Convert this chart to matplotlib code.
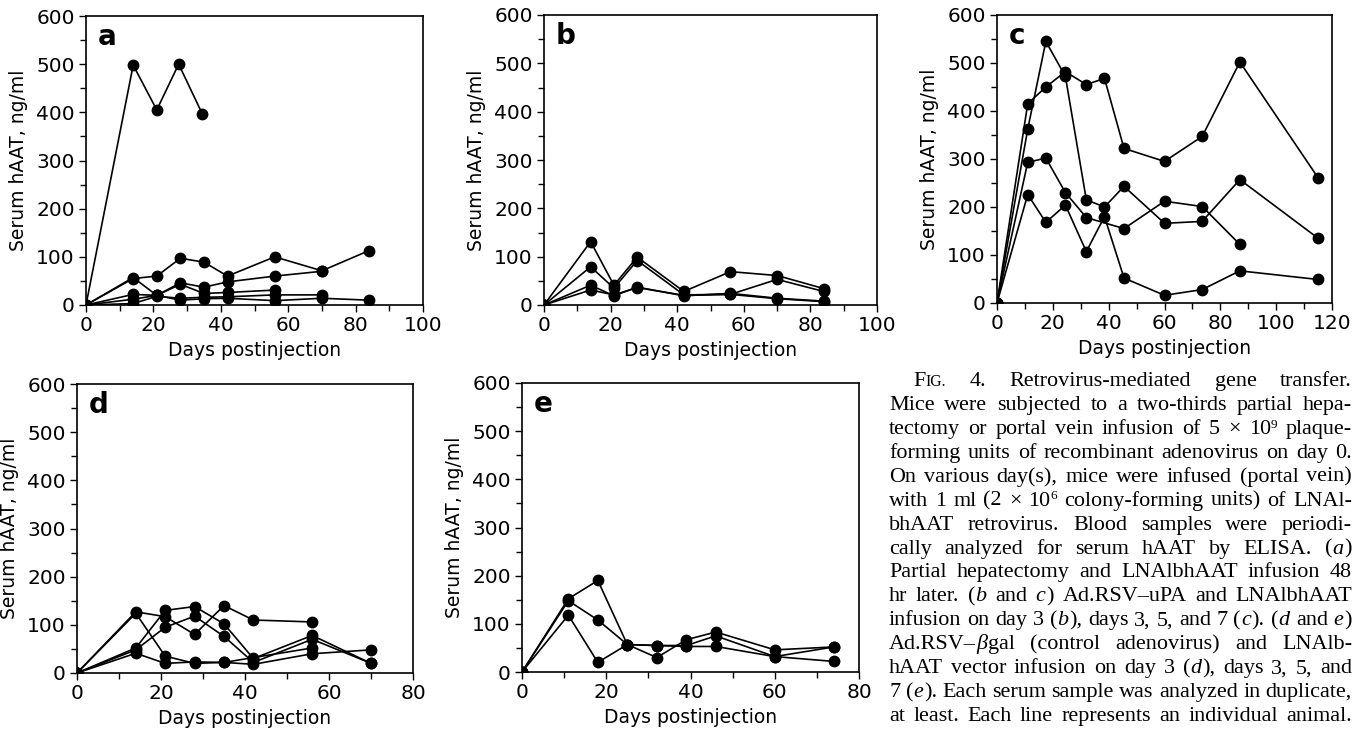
import re
import matplotlib
matplotlib.use('Agg')
import matplotlib.pyplot as plt
from matplotlib.ticker import MultipleLocator

# panel a: partial hepatectomy + LNAlbhAAT
a_series = [
    ([0, 14, 21, 27.5, 34.5], [0, 498, 405, 500, 397]),
    ([0, 14, 21, 28, 35, 42, 56, 70, 84], [0, 55, 60, 97, 89, 60, 100, 71, 113]),
    ([0, 14, 21, 28, 35, 42, 56, 70], [0, 57, 20, 46, 37, 48, 60, 70]),
    ([0, 14, 21, 28, 35, 42, 56, 70, 84], [0, 22, 20, 10, 13, 14, 9, 14, 10]),
    ([0, 14, 21, 28, 35, 42, 56], [0, 12, 20, 43, 24, 26, 31]),
    ([0, 14, 21, 28, 35, 42, 56, 70], [0, 3, 18, 14, 16, 17, 21, 21]),
]

# panel b: Ad.RSV-uPA, LNAlbhAAT on day 3
b_days = [0, 14, 21, 28, 42, 56, 70, 84]
b_series = [
    (b_days, [0, 131, 41, 99, 28, 69, 61, 34]),
    (b_days, [0, 79, 35, 92, 21, 22, 53, 28]),
    (b_days, [0, 41, 19, 37, 19, 24, 14, 8]),
    (b_days, [0, 31, 21, 36, 20, 22, 13, 7]),
]

# panel c: Ad.RSV-uPA, LNAlbhAAT on days 3, 5, 7
c_days = [0, 11, 17.5, 24.5, 32, 38.5, 45.5, 60, 73.5, 87, 115]
c_series = [
    (c_days, [0, 415, 450, 482, 455, 468, 322, 295, 347, 502, 261]),
    (c_days, [0, 362, 545, 472, 215, 200, 243, 166, 170, 257, 135]),
    ([0, 11, 17.5, 24.5, 32, 45.5, 60, 73.5, 87], [0, 293, 302, 230, 178, 155, 212, 201, 122]),
    (c_days, [0, 226, 168, 204, 107, 180, 52, 16, 28, 67, 49]),
]

# panel d: Ad.RSV-bgal, LNAlbhAAT on day 3
d_series = [
    ([0, 14, 21, 28, 35, 42, 56], [0, 127, 117, 80, 140, 110, 106]),
    ([0, 14, 21, 28, 35, 42, 56, 70], [0, 52, 130, 138, 102, 30, 78, 20]),
    ([0, 14, 21, 28, 35, 42, 56, 70], [0, 48, 95, 118, 76, 22, 70, 20]),
    ([0, 14, 21, 28, 35, 42, 56], [0, 124, 35, 20, 22, 32, 52]),
    ([0, 14, 21, 28, 35, 42, 56, 70], [0, 41, 20, 23, 22, 18, 40, 48]),
]

# panel e: Ad.RSV-bgal, LNAlbhAAT on days 3, 5, 7
e_days = [0, 11, 18, 25, 32, 39, 46, 60, 74]
e_series = [
    (e_days, [0, 152, 190, 57, 55, 53, 53, 32, 22]),
    (e_days, [0, 148, 108, 57, 30, 67, 83, 46, 52]),
    (e_days, [0, 118, 20, 57, 55, 55, 75, 32, 52]),
]

caption = [
    "F{c:IG.} 4. Retrovirus-mediated gene transfer.",
    "Mice were subjected to a two-thirds partial hepa-",
    "tectomy or portal vein infusion of 5 \u00d7 10{s:9} plaque-",
    "forming units of recombinant adenovirus on day 0.",
    "On various day(s), mice were infused (portal vein)",
    "with 1 ml (2 \u00d7 10{s:6} colony-forming units) of LNAl-",
    "bhAAT retrovirus. Blood samples were periodi-",
    "cally analyzed for serum hAAT by ELISA. ({i:a})",
    "Partial hepatectomy and LNAlbhAAT infusion 48",
    "hr later. ({i:b} and {i:c}) Ad.RSV\u2013uPA and LNAlbhAAT",
    "infusion on day 3 ({i:b}), days 3, 5, and 7 ({i:c}). ({i:d} and {i:e})",
    "Ad.RSV\u2013{i:\u03b2}gal (control adenovirus) and LNAlb-",
    "hAAT vector infusion on day 3 ({i:d}), days 3, 5, and",
    "7 ({i:e}). Each serum sample was analyzed in duplicate,",
    "at least. Each line represents an individual animal.",
]

W, H = 1359, 729
fig = plt.figure(figsize=(W / 100, H / 100), dpi=100)


def px_axes(left, right, top, bottom):
    return fig.add_axes([left / W, 1 - bottom / H, (right - left) / W, (bottom - top) / H])


def draw_panel(ax, series, xmax, letter):
    for days, vals in series:
        ax.plot(days, vals, color='black', lw=1.2, marker='o', ms=7.5)
    ax.set_xlim(0, xmax)
    ax.set_ylim(0, 600)
    ax.xaxis.set_major_locator(MultipleLocator(20))
    ax.xaxis.set_minor_locator(MultipleLocator(10))
    ax.yaxis.set_major_locator(MultipleLocator(100))
    ax.yaxis.set_minor_locator(MultipleLocator(50))
    ax.tick_params(which='both', direction='out', width=1.0, labelsize=14.5, pad=3)
    ax.tick_params(which='major', length=5)
    ax.tick_params(which='minor', length=4)
    for s in ax.spines.values():
        s.set_linewidth(1.2)
    ax.set_xlabel('Days postinjection', fontsize=13.5, labelpad=4)
    ax.set_ylabel('Serum hAAT, ng/ml', fontsize=13.5, labelpad=6)
    ax.text(0.035, 0.975, letter, transform=ax.transAxes, ha='left', va='top',
            fontsize=20, fontweight='bold')


draw_panel(px_axes(86, 423, 16, 305), a_series, 100, 'a')
draw_panel(px_axes(544, 877, 15, 305), b_series, 100, 'b')
draw_panel(px_axes(997, 1332, 15, 303), c_series, 120, 'c')
draw_panel(px_axes(77, 413, 384, 673), d_series, 80, 'd')
draw_panel(px_axes(522, 859, 383, 672), e_series, 80, 'e')


# justified caption block
def draw_caption(lines, x_left, x_right, y_first, step, fs):
    r = fig.canvas.get_renderer()
    for k, line in enumerate(lines):
        y = y_first + k * step
        x0 = x_left + (24 if k == 0 else 0)
        words = []
        for w in line.split():
            objs = []
            for part in re.split(r'(\{[isc]:[^}]*\})', w):
                if not part:
                    continue
                if part.startswith('{'):
                    txt, st = part[3:-1], part[1]
                else:
                    txt, st = part, 'r'
                size = fs * {'c': 0.72, 's': 0.6}.get(st, 1.0)
                dy = fs * 0.28 * 100 / 72 if st == 's' else 0
                t = fig.text(0, 0, txt, fontsize=size, family='Liberation Serif',
                             style='italic' if st == 'i' else 'normal', va='baseline')
                objs.append((t, dy, t.get_window_extent(r).width + (1 if st == 'i' else 0)))
            words.append(objs)
        widths = [sum(o[2] for o in wo) for wo in words]
        gap = (x_right - x0 - sum(widths)) / (len(words) - 1)
        x = x0
        for wo in words:
            for t, dy, tw in wo:
                t.set_position((x / W, 1 - (y - dy) / H))
                x += tw
            x += gap


draw_caption(caption, 889, 1352, 386, 23.93, 15.9)

fig.savefig('out.png', dpi=100)
